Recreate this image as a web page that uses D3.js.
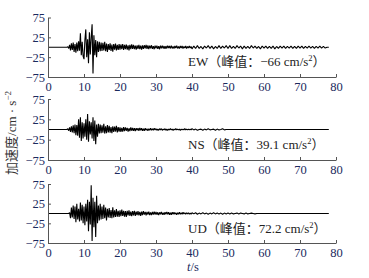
<!DOCTYPE html>
<html>
<head>
<meta charset="utf-8">
<script src="https://cdn.jsdelivr.net/npm/d3@7"></script>
<style>
  body { margin: 0; background: #fff; }
  svg text { font-family: "Liberation Serif", "Noto Sans CJK SC", serif; }
</style>
</head>
<body>
<div id="chart"></div>
<script>
// ----------------------
// Data (acceleration, cm/s^2)
// strong part: dt = 0.25 s from 5 s, coda: dt = 0.5 s from 40 s
// ----------------------
const xTicks = [0, 10, 20, 30, 40, 50, 60, 70, 80];
const yTicks = [75, 25, -25, -75];

const ewStrong = [
  0, 0, 1, -3, 6, -8, 10, -7, 12, -12, 8, -14, 12, -10, 15, -9, 35, -20, 14, -22,
  -30, 18, 45, -25, 20, -40, 38, -18, 25, 58, -66, 30, -20, 18, -25, 15, -12, 14, -10, 12,
  -9, 11, -8, 14, -10, 9, -12, 8, -7, 10, -9, 7, -11, 8, -6, 9, -8, 6, -7, 8,
  -6, 7, -5, 8, -7, 6, -5, 7, -6, 5, -8, 6, -5, 7, -4, 6, -5, 4, -6, 5,
  -4, 6, -5, 4, -6, 5, -4, 5, -3, 6, -4, 5, -5, 4, -3, 5, -4, 3, -5, 4,
  -3, 4, -4, 3, -5, 4, -3, 4, -3, 3, -4, 3, -3, 4, -2, 3, -3, 4, -3, 2,
  -3, 3, -2, 4, -3, 2, -3, 3, -2, 3, -3, 2, -2, 3, -3, 2, -2, 3, -2, 2
];
const ewCoda = [
  -4, 3, -3, 4, -3, 2, -4, 3, -2, 4, -3, 3, -4, 2, -3, 4, -3, 3, -2, 4,
  -3, 4, -3, 2, -3, 4, -2, 3, -4, 3, -3, 2, -3, 4, -2, 3, -3, 2, -4, 3,
  -2, 3, -3, 2, -3, 3, -4, 2, -3, 3, -2, 3, -3, 2, -2, 3, -3, 2, -3, 3,
  -2, 3, -3, 2, -2, 3, -2, 2, -3, 2, -2, 3, -2, 2, -2, 0
];

const nsStrong = [
  0, 0, 2, -3, 5, -6, 8, -7, 10, -9, 12, -14, 11, -15, 25, -20, 30, -28, 18, -22,
  15, -18, 25, -25, 38, -30, 20, -12, 18, -22, 30, -28, 22, -36, 12, -18, 14, -10, 12, -9,
  10, -8, 14, -10, 8, -9, 11, -7, 9, -8, 6, -9, 8, -6, 7, -5, 9, -7, 6, -5,
  5, -6, 4, -5, 6, -4, 5, -3, 4, -5, 3, -4, 5, -3, 4, -3, 3, -4, 3, -2,
  3, -3, 4, -2, 3, -3, 2, -3, 3, -2, 2, -3, 2, -2, 3, -2, 2, -2, 3, -1,
  2, -2, 1, -2, 2, -1, 2, -2, 1, -1, 2, -2, 1, -2, 1, -1, 2, -1, 1, -2,
  1, -1, 2, -1, 1, -1, 1, -2, 1, -1, 1, -1, 2, -1, 1, -1, 1, -1, 1, -1
];
const nsCoda = [
  2, -1, 1, -2, 0, 1, -2, 1, -1, 2, -1, 0, 1, -2, 1, -1, 0, 2, -1, 0,
  0, 0, 0, 0, 0, 0, 0, 0, 0, 0, 0, 0, 0, 0, 0, 0, 0, 0, 0, 0,
  0, 0, 0, 0, 0, 0, 0, 0, 0, 0, 0, 0, 0, 0, 0, 0, 0, 0, 0, 0,
  0, 0, 0, 0, 0, 0, 0, 0, 0, 0, 0, 0, 0, 0, 0, 0
];

const udStrong = [
  0, 0, 0, 0, 2, -12, 15, -10, 20, -14, 18, -22, 25, -15, 12, -20, 28, -18, 22, -25,
  18, -30, 25, -20, 35, -45, 30, -28, 72, -70, 40, -35, 30, -60, 45, -25, 20, -18, 25, -15,
  18, -14, 22, -12, 15, -18, 12, -10, 14, -11, 9, -12, 16, -10, 8, -9, 11, -8, 7, -9,
  8, -7, 10, -6, 7, -8, 6, -9, 7, -5, 8, -6, 5, -7, 6, -5, 7, -6, 5, -4,
  6, -5, 4, -6, 5, -4, 6, -3, 4, -5, 4, -3, 5, -4, 3, -4, 4, -3, 5, -3,
  4, -3, 3, -4, 3, -2, 4, -3, 2, -3, 3, -2, 4, -2, 3, -3, 2, -3, 3, -2,
  3, -2, 2, -3, 2, -2, 3, -2, 2, -2, 3, -1, 2, -2, 2, -1, 2, -2, 1, -2
];
const udCoda = [
  2, -1, 2, -2, 1, -1, 2, -1, 1, -2, 1, -1, 2, -1, 1, -1, 1, -2, 1, -1,
  1, -1, 1, -1, 0, 1, -1, 1, 0, -1, 1, -1, 0, 1, 0, -1, 0, 0, 0, 0,
  0, 0, 0, 0, 0, 0, 0, 0, 0, 0, 0, 0, 0, 0, 0, 0, 0, 0, 0, 0,
  0, 0, 0, 0, 0, 0, 0, 0, 0, 0, 0, 0, 0, 0, 0, 0
];

const components = ["EW", "NS", "UD"];
const peakLabels = ["−66", "39.1", "72.2"];

// build [t, a] pairs: quiet lead-in at 0 s, strong part, coda, end at 78 s
function toSeries(strong, coda) {
  const pts = [[0, 0]];
  strong.forEach((v, i) => pts.push([5 + i * 0.25, v]));
  coda.forEach((v, i) => pts.push([40 + i * 0.5, v]));
  pts.push([78, 0]);
  return pts;
}
const series = [
  toSeries(ewStrong, ewCoda),
  toSeries(nsStrong, nsCoda),
  toSeries(udStrong, udCoda)
];

// ----------------------
// Layout
// ----------------------
const W = 369, H = 278;
const xLeft = 48, xRight = 336;
const panels = [
  { top: 17.5, bottom: 77 },
  { top: 99, bottom: 160 },
  { top: 184, bottom: 243 }
];

const svg = d3.select("#chart")
  .append("svg")
  .attr("width", W)
  .attr("height", H);

const x = d3.scaleLinear().domain([0, 80]).range([xLeft, xRight]);
const fmt = d => (d < 0 ? "−" + Math.abs(d) : d);

panels.forEach((p, k) => {
  const y = d3.scaleLinear().domain([-75, 75]).range([p.bottom, p.top]);

  // waveform
  const line = d3.line().x(d => x(d[0])).y(d => y(d[1]));
  svg.append("path")
    .datum(series[k])
    .attr("d", line)
    .attr("fill", "none")
    .attr("stroke", "#000")
    .attr("stroke-width", 1.1)
    .attr("stroke-linejoin", "bevel");

  // bottom axis
  const xa = svg.append("g")
    .attr("transform", `translate(0,${p.bottom})`)
    .call(d3.axisBottom(x).tickValues(xTicks).tickSizeInner(-3).tickSizeOuter(0).tickPadding(5));

  // left axis
  const ya = svg.append("g")
    .attr("transform", `translate(${xLeft},0)`)
    .call(d3.axisLeft(y).tickValues(yTicks).tickFormat(fmt).tickSizeInner(-3).tickSizeOuter(0).tickPadding(3));

  [xa, ya].forEach(a => {
    a.select(".domain").attr("stroke", "#555").attr("stroke-width", 1);
    a.selectAll(".tick line").attr("stroke", "#555");
    a.selectAll("text")
      .attr("fill", "#1b2a5e")
      .style("font-size", "12.5px")
      .style("font-family", "'Liberation Serif', serif");
  });

  // peak annotation
  const ann = svg.append("text")
    .attr("x", 188)
    .attr("y", y(-28) + 8)
    .attr("fill", "#222")
    .style("font-size", "13px");
  ann.append("tspan").text(components[k] + "（峰值：" + peakLabels[k] + " cm/s");
  ann.append("tspan").attr("dy", -5).style("font-size", "8.5px").text("2");
  ann.append("tspan").attr("dy", 5).text("）");
});

// y axis title
const yt = svg.append("text")
  .attr("transform", `translate(16,133) rotate(-90)`)
  .attr("text-anchor", "middle")
  .attr("fill", "#333")
  .style("font-size", "13px");
yt.append("tspan").text("加速度/cm · s");
yt.append("tspan").attr("dy", -5).style("font-size", "9px").text("−2");

// x axis title
const xt = svg.append("text")
  .attr("x", 193)
  .attr("y", 271)
  .attr("text-anchor", "middle")
  .attr("fill", "#1b2a5e")
  .style("font-size", "12.5px");
xt.append("tspan").style("font-style", "italic").text("t");
xt.append("tspan").text("/s");
</script>
</body>
</html>
